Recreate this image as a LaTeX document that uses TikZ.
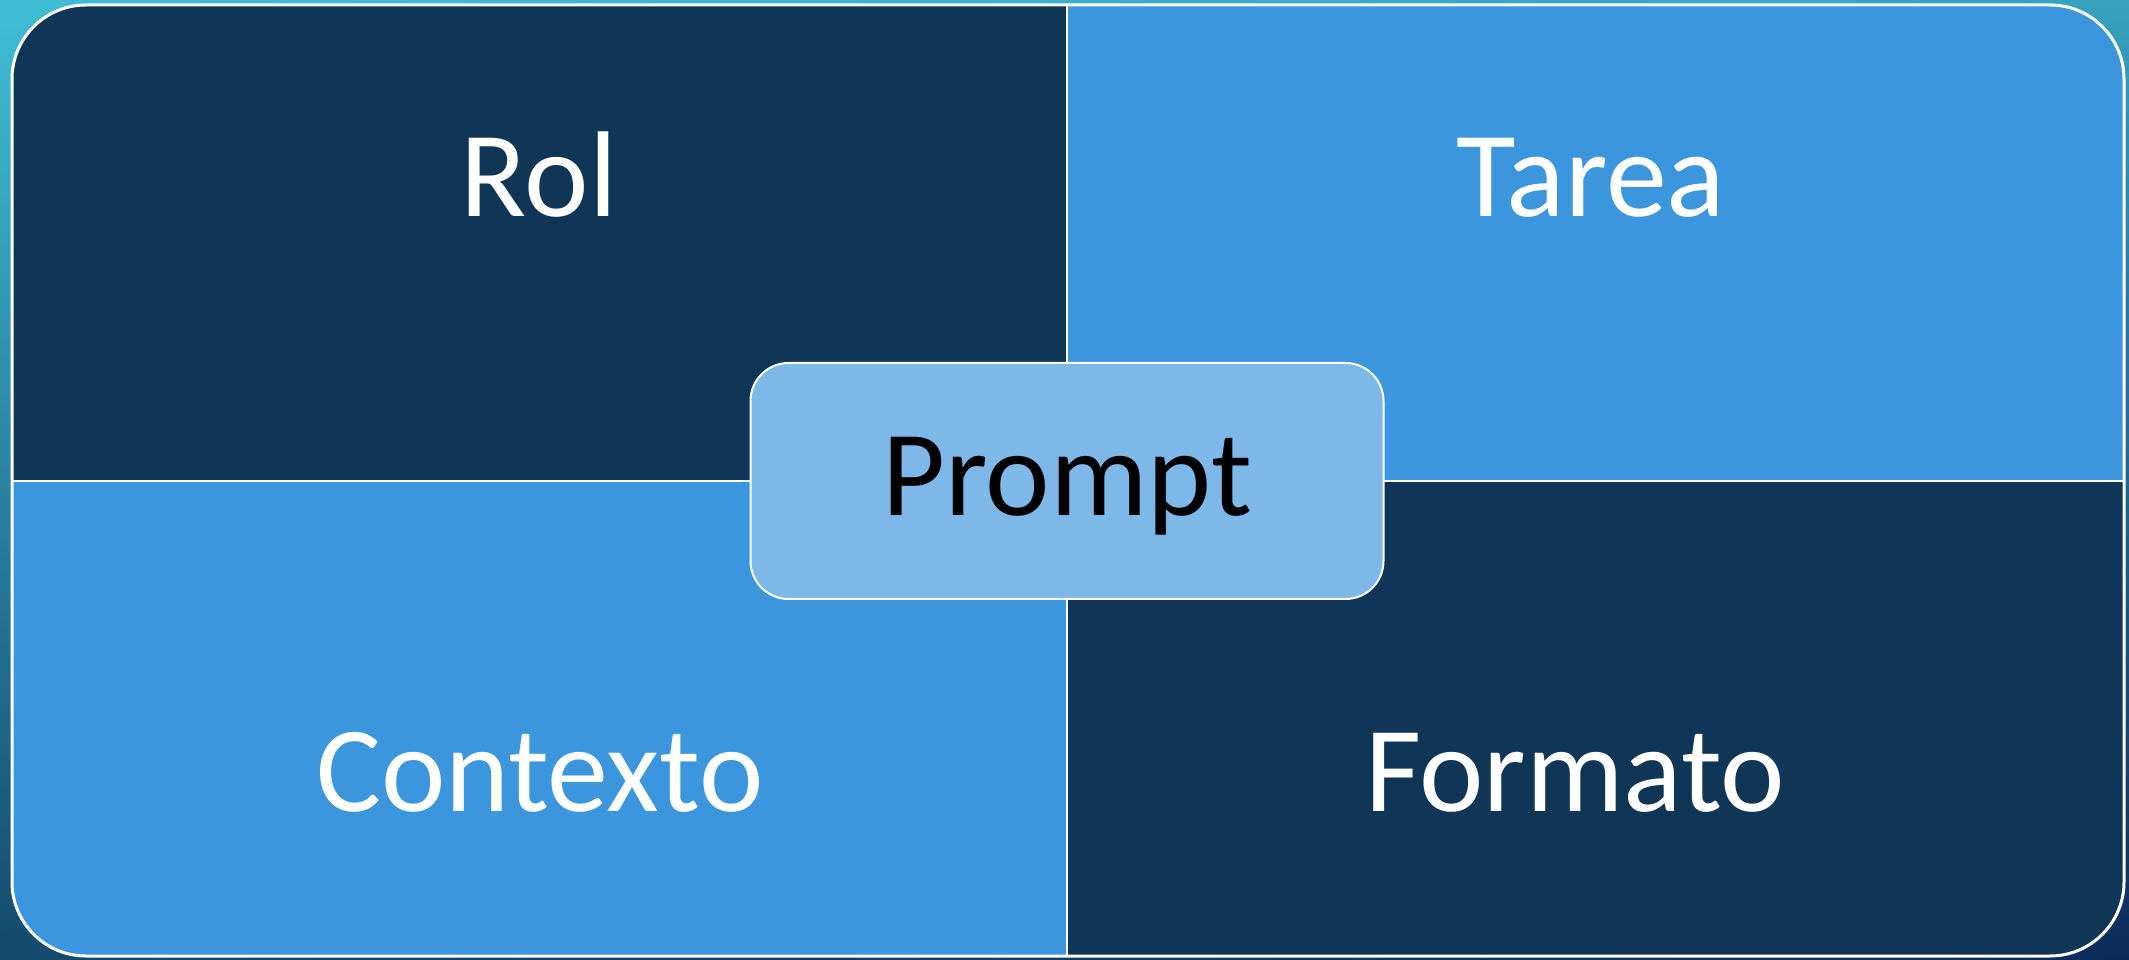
\documentclass[tikz,border=0pt]{standalone}
\usepackage{fontspec}
\setmainfont{Carlito}
\usetikzlibrary{positioning,shadings}
\definecolor{navy}{HTML}{0F3557}
\definecolor{azul}{HTML}{3C96DE}
\definecolor{celeste}{HTML}{7DB8E8}
\definecolor{bgtl}{HTML}{40BDD5}
\definecolor{bgtr}{HTML}{35A2BE}
\definecolor{bgbl}{HTML}{144A6E}
\definecolor{bgbr}{HTML}{0D2B5A}
\tikzset{
  quadtext/.style={font=\fontsize{122}{146}\selectfont, text=white, anchor=base, inner sep=0pt},
  divider/.style={white, line width=2}
}

\begin{document}
\begin{tikzpicture}[x=1pt,y=1pt]
\useasboundingbox (0,0) rectangle (2129,959);
\shade[upper left=bgtl, upper right=bgtr, lower left=bgbl, lower right=bgbr] (0,0) rectangle (2129,959);

\def\xl{12}
\def\xm{1067}
\def\xr{2124}
\def\yb{3}
\def\ym{478}
\def\yt{954}

% four quadrants
\begin{scope}
\clip[rounded corners=74] (\xl,\yb) rectangle (\xr,\yt);
\fill[navy] (\xl,\ym) rectangle (\xm,\yt);
\fill[azul] (\xm,\ym) rectangle (\xr,\yt);
\fill[azul] (\xl,\yb) rectangle (\xm,\ym);
\fill[navy] (\xm,\yb) rectangle (\xr,\ym);
\draw[divider] (\xm,\yb) -- (\xm,\yt);
\draw[divider] (\xl,\ym) -- (\xr,\ym);
\end{scope}
\draw[white, line width=3, rounded corners=74] (\xl,\yb) rectangle (\xr,\yt);

\node[quadtext] (rol) at (539,742) {Rol};
\node[quadtext] (tarea) at (1591,742) {Tarea};
\node[quadtext] (contexto) at (540,147) {Contexto};
\node[quadtext] (formato) at (1575,147) {Formato};

% centre box
\node[draw=white, line width=2, fill=celeste, rounded corners=38,
  minimum width=633, minimum height=236, inner sep=0pt] (box) at (\xm,\ym) {};
\node[quadtext, text=black] (prompt) at (1067,443) {Prompt};

\end{tikzpicture}
\end{document}
